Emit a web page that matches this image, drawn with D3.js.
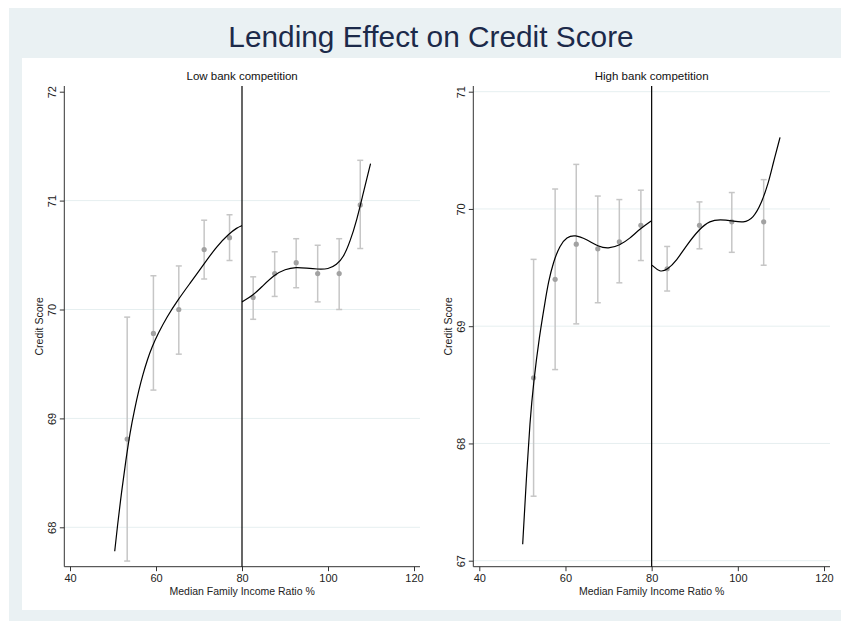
<!DOCTYPE html>
<html>
<head>
<meta charset="utf-8">
<script src="https://cdn.jsdelivr.net/npm/d3@7"></script>
<style>
  body { margin: 0; background: #fff; }
  text { font-family: Arial, "Liberation Sans", sans-serif; }
</style>
</head>
<body>
<svg width="841" height="621"></svg>
<script>
// bins: x position, mean and 95% CI
const lowBinX = [53.3, 59.4, 65.3, 71.2, 77.1, 82.6, 87.6, 92.6, 97.6, 102.6, 107.5]
const lowMean = [68.81, 69.78, 70.00, 70.55, 70.66, 70.11, 70.33, 70.43, 70.33, 70.33, 70.96]
const lowLower = [67.69, 69.26, 69.59, 70.28, 70.45, 69.91, 70.12, 70.20, 70.07, 70.00, 70.56]
const lowUpper = [69.93, 70.31, 70.40, 70.82, 70.87, 70.30, 70.53, 70.65, 70.59, 70.65, 71.37]

const highBinX = [52.6, 57.6, 62.5, 67.5, 72.5, 77.5, 83.6, 91.1, 98.6, 106.0]
const highMean = [68.56, 69.40, 69.70, 69.66, 69.72, 69.86, 69.49, 69.86, 69.89, 69.89]
const highLower = [67.55, 68.63, 69.02, 69.20, 69.37, 69.56, 69.30, 69.66, 69.63, 69.52]
const highUpper = [69.57, 70.17, 70.38, 70.11, 70.08, 70.16, 69.68, 70.06, 70.14, 70.25]

// polynomial fit, each side of the cutoff
const lowFitLeft = [[50.4, 67.78], [51.0, 68.00], [52.0, 68.33], [53.0, 68.62], [54.0, 68.88],
  [55.0, 69.08], [56.0, 69.26], [57.0, 69.41], [58.0, 69.54], [59.0, 69.65], [60.5, 69.78],
  [62.5, 69.93], [65.3, 70.10], [67.9, 70.24], [71.2, 70.42], [74.1, 70.58], [77.1, 70.70],
  [78.8, 70.75], [80.0, 70.77]]
const lowFitRight = [[80.0, 70.07], [82.6, 70.13], [84.9, 70.22], [87.6, 70.32], [90.0, 70.37],
  [92.6, 70.39], [95.0, 70.38], [97.5, 70.37], [100.1, 70.37], [102.0, 70.41], [103.6, 70.48],
  [105.1, 70.62], [106.7, 70.82], [108.2, 71.07], [109.9, 71.34]]
const highFitLeft = [[50.07, 67.14], [50.84, 67.65], [51.77, 68.20], [52.62, 68.53], [53.92, 68.91],
  [55.32, 69.22], [56.0, 69.37], [57.2, 69.55], [58.7, 69.69], [60.3, 69.76], [62.2, 69.78],
  [64.9, 69.74], [67.6, 69.68], [69.9, 69.66], [72.6, 69.69], [75.0, 69.75], [77.3, 69.83],
  [80.0, 69.90]]
const highFitRight = [[80.1, 69.52], [81.9, 69.46], [83.6, 69.48], [85.8, 69.56], [88.1, 69.69],
  [91.1, 69.83], [93.5, 69.90], [95.9, 69.91], [98.6, 69.90], [101.3, 69.88], [103.6, 69.92],
  [105.5, 70.05], [107.1, 70.22], [108.2, 70.39], [109.8, 70.61]]

const xTicks = [40, 60, 80, 100, 120]
const lowYTicks = [68, 69, 70, 71, 72]
const highYTicks = [67, 68, 69, 70, 71]
const lowGrid = [68, 69, 70, 71]
const highGrid = [67, 68, 69, 70, 71]
const cutoff = 80

const svg = d3.select('svg')

// background
svg.append('rect').attr('x', 9).attr('y', 8).attr('width', 832).attr('height', 613)
  .attr('fill', '#eaf1f3')
svg.append('rect').attr('x', 22).attr('y', 58).attr('width', 819).attr('height', 552)
  .attr('fill', '#fff')

svg.append('text')
  .attr('x', 431).attr('y', 47)
  .attr('text-anchor', 'middle')
  .style('font-size', '29.8px')
  .style('fill', '#1c2a4a')
  .text('Lending Effect on Credit Score')

const panels = [
  {
    title: 'Low bank competition', left: 64.3, right: 420, top: 86, bottom: 566.7,
    xRange: [70, 414], yDomain: [68, 72], yRange: [527.3, 91.7], yTicks: lowYTicks, grid: lowGrid,
    binX: lowBinX, mean: lowMean, lower: lowLower, upper: lowUpper, fits: [lowFitLeft, lowFitRight]
  },
  {
    title: 'High bank competition', left: 473.3, right: 830, top: 86, bottom: 566.7,
    xRange: [479.3, 824], yDomain: [67, 71], yRange: [560.7, 91.7], yTicks: highYTicks, grid: highGrid,
    binX: highBinX, mean: highMean, lower: highLower, upper: highUpper, fits: [highFitLeft, highFitRight]
  }
]

const drawPanel = p => {
  const x = d3.scaleLinear().domain([40, 120]).range(p.xRange)
  const y = d3.scaleLinear().domain(p.yDomain).range(p.yRange)
  const g = svg.append('g')

  // grid
  g.selectAll('.grid')
    .data(p.grid)
    .enter()
    .append('line')
    .attr('x1', p.left).attr('x2', p.right)
    .attr('y1', d => y(d)).attr('y2', d => y(d))
    .style('stroke', '#e6eff0')
    .style('stroke-width', 1)

  // y axis
  const yAxisG = g.append('g')
    .attr('transform', `translate(${p.left}, 0)`)
    .call(d3.axisLeft(y).tickValues(p.yTicks).tickSize(4.5).tickFormat(d3.format('d')))
  yAxisG.select('.domain').remove()
  yAxisG.append('line')
    .attr('y1', p.top).attr('y2', p.bottom)
    .style('stroke', '#333')
  yAxisG.selectAll('.tick line').style('stroke', '#333')
  yAxisG.selectAll('.tick text')
    .attr('x', 0).attr('y', -8.8).attr('dy', 0)
    .attr('transform', 'rotate(-90)')
    .attr('text-anchor', 'middle')
    .style('font-size', '11px')
    .style('fill', '#222')
    .style('font-family', 'Arial, "Liberation Sans", sans-serif')

  // x axis
  const xAxisG = g.append('g')
    .attr('transform', `translate(0, ${p.bottom})`)
    .call(d3.axisBottom(x).tickValues(xTicks).tickSize(4.5).tickPadding(3))
  xAxisG.select('.domain').remove()
  xAxisG.append('line')
    .attr('x1', p.left).attr('x2', p.right)
    .style('stroke', '#333')
  xAxisG.selectAll('.tick line').style('stroke', '#333')
  xAxisG.selectAll('.tick text')
    .style('font-size', '11px')
    .style('fill', '#222')
    .style('font-family', 'Arial, "Liberation Sans", sans-serif')

  // axis titles
  g.append('text')
    .attr('x', (p.left + p.right) / 2).attr('y', 594.5)
    .attr('text-anchor', 'middle')
    .style('font-size', '10.5px')
    .style('fill', '#222')
    .text('Median Family Income Ratio %')
  g.append('text')
    .attr('transform', `translate(${p.left - 21}, ${(p.top + p.bottom) / 2}) rotate(-90)`)
    .attr('text-anchor', 'middle')
    .style('font-size', '10.5px')
    .style('fill', '#222')
    .text('Credit Score')
  g.append('text')
    .attr('x', (p.left + p.right) / 2).attr('y', 80)
    .attr('text-anchor', 'middle')
    .style('font-size', '11.5px')
    .style('fill', '#111')
    .text(p.title)

  // confidence intervals
  const bins = p.binX.map((d, i) => ({ x: d, mean: p.mean[i], lo: p.lower[i], hi: p.upper[i] }))
  const bar = g.selectAll('.ci')
    .data(bins)
    .enter()
    .append('g')
    .style('stroke', '#c6c6c6')
    .style('stroke-width', 1.5)
  bar.append('line')
    .attr('x1', d => x(d.x)).attr('x2', d => x(d.x))
    .attr('y1', d => y(d.lo)).attr('y2', d => y(d.hi))
  bar.append('line')
    .attr('x1', d => x(d.x) - 3).attr('x2', d => x(d.x) + 3)
    .attr('y1', d => y(d.lo)).attr('y2', d => y(d.lo))
  bar.append('line')
    .attr('x1', d => x(d.x) - 3).attr('x2', d => x(d.x) + 3)
    .attr('y1', d => y(d.hi)).attr('y2', d => y(d.hi))

  g.selectAll('.pt')
    .data(bins)
    .enter()
    .append('circle')
    .attr('cx', d => x(d.x))
    .attr('cy', d => y(d.mean))
    .attr('r', 2.6)
    .style('fill', '#a2a2a2')

  // fits
  const line = d3.line()
    .x(d => x(d[0]))
    .y(d => y(d[1]))
    .curve(d3.curveBasis)
  g.selectAll('.fit')
    .data(p.fits)
    .enter()
    .append('path')
    .attr('d', line)
    .style('fill', 'none')
    .style('stroke', '#000')
    .style('stroke-width', 1.2)

  // cutoff
  g.append('line')
    .attr('x1', x(cutoff)).attr('x2', x(cutoff))
    .attr('y1', p.top).attr('y2', p.bottom)
    .style('stroke', '#000')
    .style('stroke-width', 1.2)
}

panels.forEach(drawPanel)
</script>
</body>
</html>
